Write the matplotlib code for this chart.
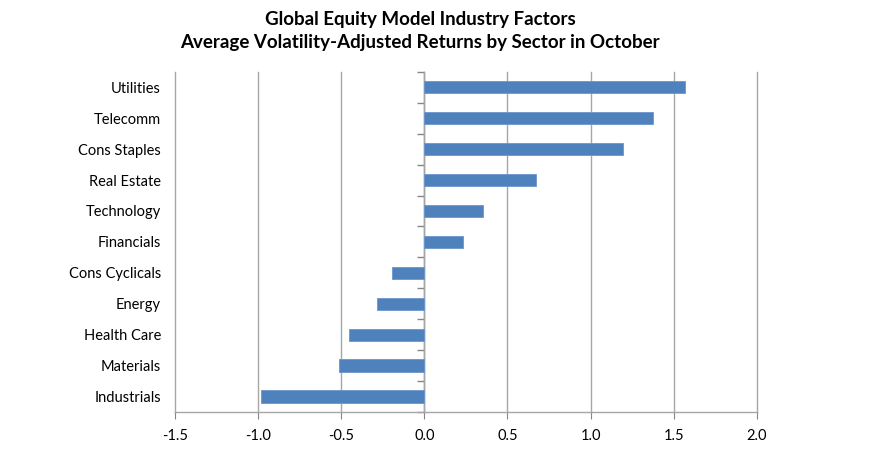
import numpy as np
import matplotlib
matplotlib.use("Agg")
import matplotlib.pyplot as plt

# sectors listed bottom to top, as drawn
sectors = ["Industrials", "Materials", "Health Care", "Energy", "Cons Cyclicals",
           "Financials", "Technology", "Real Estate", "Cons Staples", "Telecomm",
           "Utilities"]
returns = [-0.98, -0.515, -0.45, -0.285, -0.195,
           0.23, 0.355, 0.67, 1.195, 1.375, 1.57]
xticks = [-1.5, -1.0, -0.5, 0.0, 0.5, 1.0, 1.5, 2.0]

title = ("Global Equity Model Industry Factors\n"
         "Average Volatility-Adjusted Returns by Sector in October")

plt.rcParams['font.family'] = ['Lato', 'DejaVu Sans']

fig = plt.figure(figsize=[8.7, 4.5], dpi=100)
ax = fig.add_axes([0.201, 0.0844, 0.669, 0.756])

y = np.arange(len(sectors))
ax.barh(y, returns, height=0.4, color='#4F81BD', edgecolor='#6B96CC',
        linewidth=0.6, zorder=3)

ax.set_xlim(-1.5, 2.0)
ax.set_ylim(-0.5, len(sectors) - 0.5)
ax.set_xticks(xticks)
ax.set_xticklabels(["%.1f" % v for v in xticks], fontsize=10.5)
ax.set_yticks(y)
ax.set_yticklabels(sectors, fontsize=10.5)
ax.tick_params(axis='y', length=0, pad=10)
ax.tick_params(axis='x', length=5, color='#868686', pad=7)

ax.grid(axis='x', color='#A6A6A6', linewidth=1.0, zorder=0)
for gl in ax.get_xgridlines():
    gl.set_clip_on(False)
for s in ['left', 'right', 'top']:
    ax.spines[s].set_visible(False)
ax.spines['bottom'].set_color('#A6A6A6')
ax.spines['bottom'].set_linewidth(1.0)

# vertical axis drawn at zero with ticks between categories
zero_frac = (0 - xticks[0]) / (xticks[-1] - xticks[0])
sec = ax.secondary_yaxis(zero_frac)
sec.set_yticks(np.arange(-0.5, len(sectors), 1.0))
sec.set_yticklabels([])
sec.tick_params(length=5, color='#868686', width=1.0)
sec.spines['left'].set_color('#868686')
sec.spines['left'].set_linewidth(1.0)

fig.text(0.483, 0.975, title, ha='center', va='top', fontsize=13.5,
         fontweight='bold', linespacing=1.4)

fig.savefig("out.png", dpi=100)
